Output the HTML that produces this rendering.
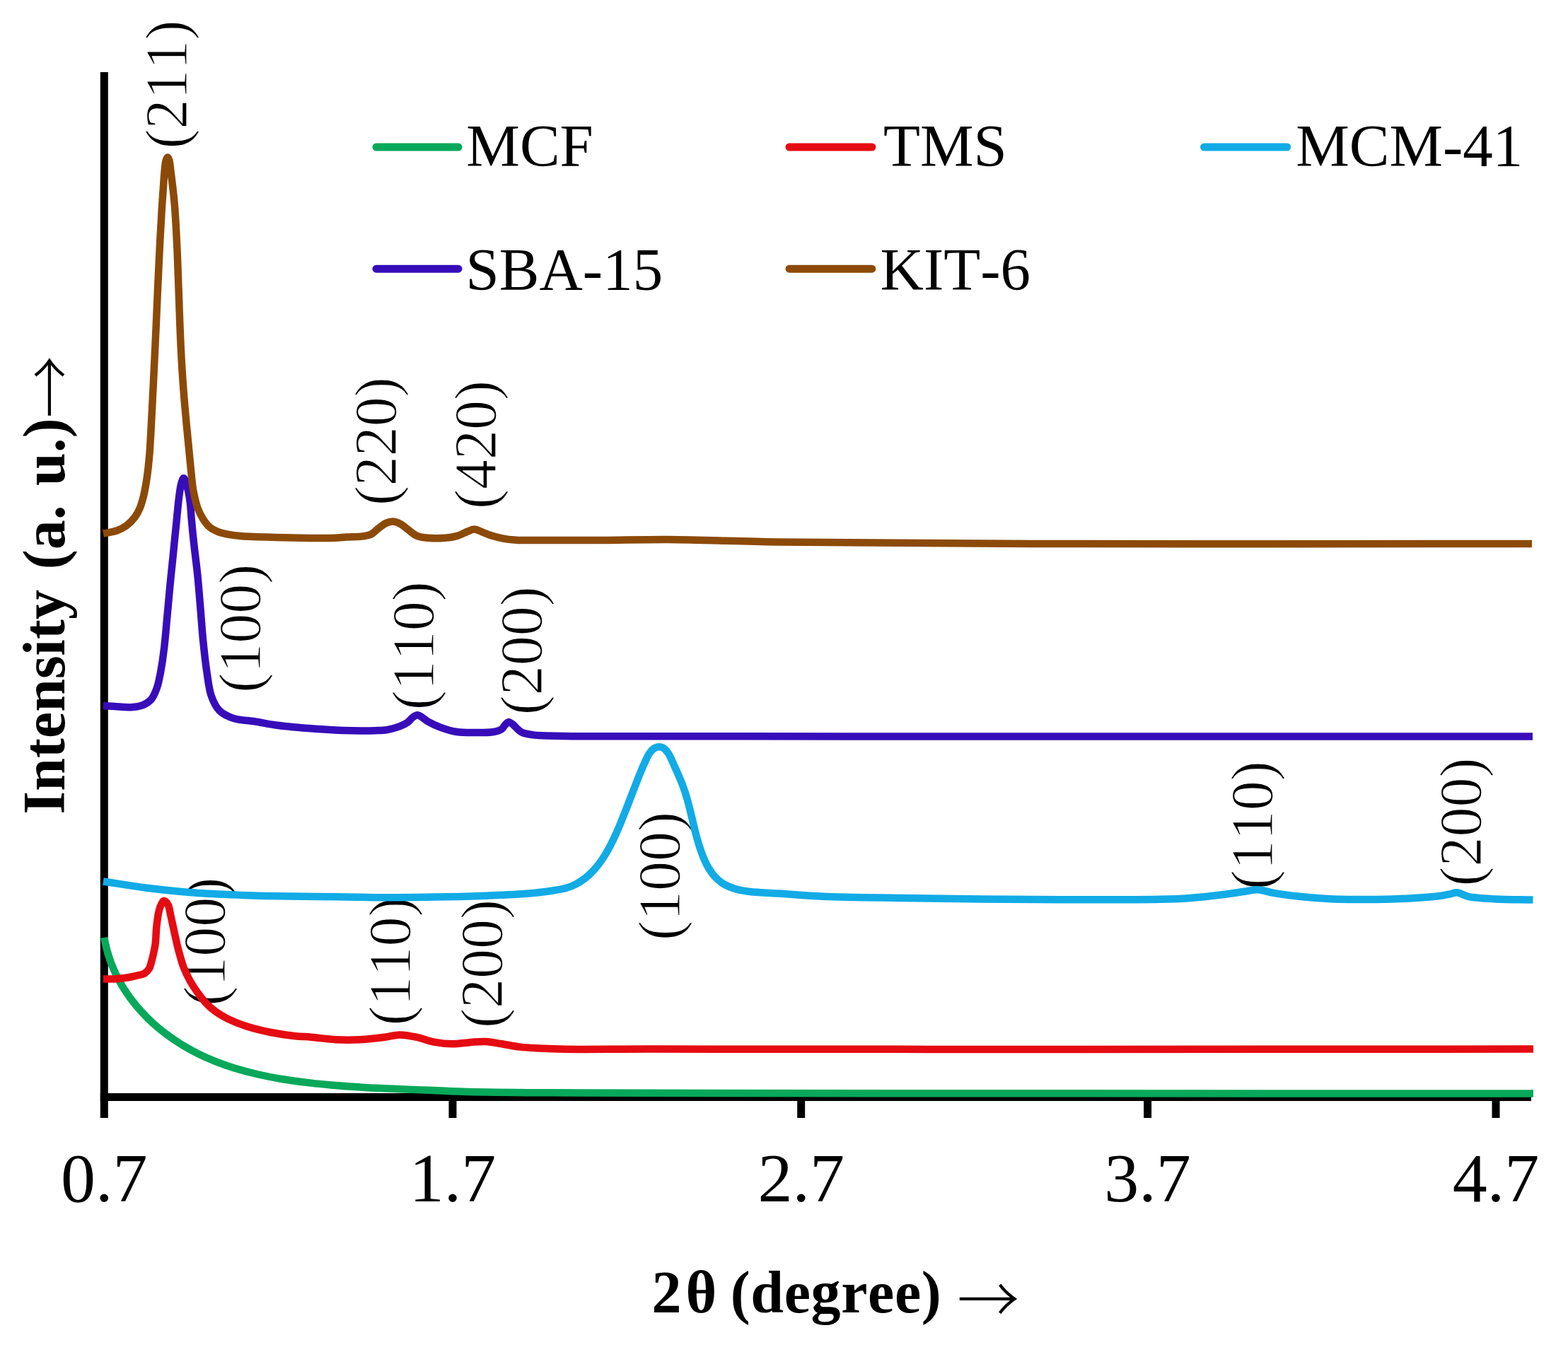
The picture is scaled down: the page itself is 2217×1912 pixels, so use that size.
<!DOCTYPE html>
<html><head><meta charset="utf-8"><title>XRD patterns</title>
<style>html,body{margin:0;padding:0;background:#fff;}svg{display:block;}text{font-kerning:none;font-feature-settings:"kern" 0;}</style></head><body>
<svg width="2217" height="1912" viewBox="0 0 2217 1912">
<rect width="2217" height="1912" fill="#fff"/>
<g font-family="'Liberation Serif',serif" font-size="84" fill="#000" stroke="#fff" stroke-width="1.2">
<text transform="translate(264.4,210.5) rotate(-90)">(211)</text>
<text transform="translate(559.6,715.1) rotate(-90)">(220)</text>
<text transform="translate(701.2,720.0) rotate(-90)">(420)</text>
<text transform="translate(367.7,979.8) rotate(-90)">(100)</text>
<text transform="translate(612.8,1004.3) rotate(-90)">(110)</text>
<text transform="translate(765.9,1011.2) rotate(-90)">(200)</text>
<text transform="translate(960.5,1329.9) rotate(-90)">(100)</text>
<text transform="translate(1798.9,1258.3) rotate(-90)">(110)</text>
<text transform="translate(2094.0,1253.4) rotate(-90)">(200)</text>
<text transform="translate(317.6,1422.8) rotate(-90)">(100)</text>
<text transform="translate(579.5,1450.4) rotate(-90)">(110)</text>
<text transform="translate(709.8,1453.9) rotate(-90)">(200)</text>
</g>
<g stroke="#000" stroke-width="11" fill="none">
<line x1="147.3" y1="102" x2="147.3" y2="1581"/>
<line x1="141.8" y1="1551.5" x2="2165" y2="1551.5"/>
<line x1="640.0" y1="1551.5" x2="640.0" y2="1581"/>
<line x1="1132.7" y1="1551.5" x2="1132.7" y2="1581"/>
<line x1="1622.6" y1="1551.5" x2="1622.6" y2="1581"/>
<line x1="2115.0" y1="1551.5" x2="2115.0" y2="1581"/>
</g>
<g fill="none" stroke-width="10.5" stroke-linejoin="round" stroke-linecap="butt">
<path stroke="#08a85a" d="M147.4,1325.9 C147.7,1327.7 147.9,1329.0 148.4,1331.2 C149.2,1335.0 150.6,1341.6 152.1,1346.8 C153.6,1352.0 155.3,1357.3 157.3,1362.4 C159.3,1367.7 161.6,1373.0 164.1,1378.2 C166.7,1383.5 169.5,1388.7 172.6,1394.1 C176.0,1399.7 179.6,1405.3 183.9,1411.1 C188.7,1417.6 194.6,1424.8 200.2,1430.9 C205.5,1436.8 210.8,1442.0 216.6,1447.3 C222.6,1452.6 229.1,1458.0 235.5,1462.8 C241.5,1467.3 247.1,1471.2 253.8,1475.4 C261.5,1480.2 270.8,1485.5 279.4,1489.9 C287.8,1494.1 296.2,1497.8 304.8,1501.2 C313.3,1504.6 321.3,1507.5 330.6,1510.3 C341.3,1513.6 353.6,1516.9 365.2,1519.5 C376.7,1522.2 388.0,1524.2 400.1,1526.2 C412.9,1528.3 427.8,1530.2 440.0,1531.6 C450.2,1532.8 457.7,1533.5 468.4,1534.5 C482.4,1535.7 500.6,1537.0 516.7,1537.9 C532.8,1538.9 548.9,1539.5 565.0,1540.2 C581.0,1540.9 597.1,1541.4 613.1,1542.0 C629.2,1542.6 641.6,1543.4 661.3,1543.9 C692.4,1544.7 740.4,1545.0 782.0,1545.3 C826.5,1545.6 862.6,1545.7 920.0,1545.8 C1015.3,1546.0 1147.5,1546.2 1300.0,1546.3 C1530.4,1546.5 1878.7,1546.4 2168.0,1546.5"/>
<path stroke="#e50b12" d="M146.0,1384.5 C151.1,1384.5 156.2,1384.6 161.3,1384.4 C166.5,1384.2 171.8,1383.8 177.0,1383.0 C182.3,1382.2 187.9,1381.0 192.7,1379.8 C196.9,1378.8 201.4,1378.3 204.5,1376.4 C207.1,1374.8 209.1,1372.8 210.7,1370.1 C212.6,1367.0 213.3,1363.0 214.6,1358.4 C216.3,1352.0 218.5,1342.9 219.6,1335.0 C220.7,1327.2 220.4,1319.0 221.3,1311.3 C222.1,1303.7 223.2,1295.0 224.6,1288.9 C225.6,1284.7 226.8,1281.0 228.2,1278.3 C229.1,1276.5 230.1,1274.5 231.2,1274.0 C232.0,1273.8 232.9,1274.1 233.7,1274.6 C235.0,1275.5 236.6,1277.4 237.8,1279.8 C239.5,1283.4 240.2,1289.6 241.5,1295.4 C243.1,1302.5 244.9,1311.2 246.7,1319.3 C248.6,1327.8 250.6,1337.1 252.8,1345.4 C254.9,1353.3 256.9,1360.9 259.6,1368.0 C262.2,1374.7 265.3,1381.0 268.6,1387.0 C271.7,1392.6 275.0,1397.6 278.7,1402.8 C282.5,1408.1 286.6,1413.6 291.0,1418.3 C295.3,1422.8 299.7,1426.8 304.8,1430.5 C310.1,1434.4 315.7,1437.7 322.2,1440.9 C329.9,1444.7 338.8,1448.3 348.2,1451.3 C358.8,1454.7 371.3,1457.7 382.9,1460.0 C394.4,1462.3 407.3,1464.1 417.6,1465.2 C425.9,1466.1 431.7,1466.0 440.0,1466.7 C450.3,1467.6 463.1,1469.6 474.7,1470.2 C486.3,1470.8 497.9,1470.8 509.5,1470.2 C521.1,1469.6 534.1,1468.0 544.2,1466.7 C552.1,1465.7 557.9,1463.4 565.1,1463.4 C572.9,1463.3 581.4,1465.2 589.4,1466.9 C597.6,1468.6 605.4,1472.1 613.7,1473.7 C622.2,1475.3 631.1,1476.3 639.8,1476.3 C648.5,1476.3 657.7,1474.5 665.9,1473.9 C673.2,1473.4 679.6,1472.6 686.7,1473.0 C694.1,1473.4 701.5,1475.1 709.3,1476.3 C717.7,1477.6 726.6,1479.6 735.3,1480.6 C744.0,1481.6 751.8,1481.9 761.4,1482.4 C773.0,1483.0 783.6,1483.5 800.0,1483.8 C828.9,1484.3 865.0,1483.6 920.0,1483.6 C1040.9,1483.5 1299.8,1484.0 1500.0,1484.0 C1714.8,1484.0 1945.3,1483.7 2168.0,1483.5"/>
<path stroke="#12abe6" d="M146.0,1246.5 C166.5,1249.6 186.6,1253.1 207.6,1255.7 C229.6,1258.4 252.6,1260.8 275.1,1262.5 C297.6,1264.2 320.2,1265.0 342.7,1265.9 C365.2,1266.7 387.8,1267.2 410.3,1267.6 C432.8,1268.0 455.3,1267.9 477.8,1268.2 C500.3,1268.5 522.9,1269.2 545.4,1269.3 C567.9,1269.4 590.5,1269.0 613.0,1268.6 C635.5,1268.2 658.0,1267.7 680.5,1266.9 C703.0,1266.0 729.0,1265.2 748.1,1263.5 C762.3,1262.3 775.2,1260.5 784.9,1259.0 C791.4,1257.9 796.0,1257.3 800.9,1255.8 C805.5,1254.5 809.6,1252.8 813.8,1250.6 C818.2,1248.4 822.6,1245.6 826.6,1242.5 C830.8,1239.3 834.8,1235.6 838.5,1231.6 C842.4,1227.5 846.0,1223.0 849.4,1218.2 C853.0,1213.2 856.3,1207.7 859.4,1202.3 C862.5,1196.9 865.0,1191.8 867.8,1185.9 C871.0,1179.3 874.2,1171.8 877.2,1164.7 C880.1,1157.8 882.7,1151.0 885.4,1144.0 C888.1,1137.2 890.7,1130.3 893.4,1123.3 C896.1,1116.3 898.9,1109.1 901.7,1102.0 C904.6,1094.9 907.5,1087.2 910.5,1080.7 C913.2,1074.9 915.8,1068.7 918.6,1064.8 C920.7,1061.9 922.7,1059.7 924.9,1058.3 C926.9,1057.1 929.0,1056.4 931.1,1056.2 C933.0,1056.0 935.0,1056.2 936.9,1057.3 C939.5,1058.6 942.2,1061.5 944.6,1064.8 C947.8,1069.4 950.6,1077.0 953.3,1082.8 C955.8,1088.2 958.1,1093.6 960.3,1098.6 C962.2,1103.1 963.8,1106.7 965.5,1111.3 C967.4,1116.5 969.3,1122.0 971.1,1128.4 C973.6,1136.6 976.1,1147.7 978.4,1156.8 C980.5,1165.1 982.2,1173.2 984.2,1180.7 C986.1,1187.5 987.9,1194.0 989.9,1199.9 C991.6,1205.2 993.3,1209.8 995.4,1214.6 C997.5,1219.4 999.7,1224.2 1002.5,1228.6 C1005.2,1232.9 1008.1,1237.1 1011.6,1240.7 C1015.0,1244.3 1018.7,1247.4 1023.1,1250.1 C1027.9,1252.9 1033.4,1255.1 1039.3,1256.9 C1045.8,1258.9 1052.4,1259.9 1060.6,1261.0 C1071.7,1262.4 1085.3,1262.5 1100.0,1263.5 C1118.8,1264.7 1139.7,1266.7 1164.0,1267.8 C1196.1,1269.2 1238.7,1269.4 1276.0,1270.0 C1313.3,1270.6 1350.7,1271.0 1388.0,1271.4 C1425.3,1271.8 1460.6,1272.2 1500.0,1272.3 C1544.1,1272.4 1607.5,1272.5 1640.0,1271.8 C1657.4,1271.4 1666.1,1271.2 1680.0,1270.2 C1695.4,1269.1 1714.0,1267.1 1728.3,1265.3 C1739.9,1263.9 1750.4,1262.1 1759.6,1260.8 C1766.8,1259.8 1772.3,1258.0 1778.9,1258.3 C1786.0,1258.6 1792.5,1261.5 1800.7,1262.9 C1811.2,1264.7 1823.9,1266.4 1836.9,1267.8 C1851.8,1269.4 1866.8,1270.7 1885.1,1271.4 C1909.3,1272.3 1943.8,1272.2 1969.6,1271.4 C1991.4,1270.7 2015.4,1269.4 2029.9,1267.8 C2038.1,1266.9 2043.7,1265.7 2049.2,1264.6 C2053.4,1263.8 2056.2,1262.0 2060.1,1262.2 C2064.9,1262.5 2069.3,1266.4 2075.8,1267.8 C2085.7,1270.0 2100.5,1270.6 2114.4,1271.4 C2130.7,1272.3 2149.8,1272.2 2167.5,1272.6"/>
<path stroke="#370dba" d="M146.0,998.0 C151.5,998.3 156.5,998.7 162.4,999.0 C169.3,999.4 177.8,1000.7 184.8,1000.2 C191.1,999.8 197.6,998.9 202.7,996.8 C207.1,995.0 210.8,992.5 213.9,989.0 C217.4,985.0 219.6,979.1 221.7,973.3 C224.1,966.6 225.4,959.2 227.0,950.9 C228.9,940.9 230.6,929.5 232.0,917.5 C233.7,903.6 234.9,887.6 236.3,872.6 C237.7,857.7 239.0,842.7 240.4,827.9 C241.8,813.5 243.3,799.7 244.8,785.0 C246.3,769.4 248.1,751.5 249.6,737.1 C250.8,725.3 251.7,714.2 252.9,704.7 C253.9,697.0 254.7,689.3 256.2,684.1 C257.2,680.8 258.5,676.3 259.7,676.2 C260.6,676.2 261.6,679.3 262.5,681.5 C263.9,685.0 265.3,690.4 266.4,695.3 C267.5,700.7 268.3,706.3 269.0,712.5 C269.8,719.5 270.0,726.8 270.8,735.1 C271.7,745.5 272.9,757.7 274.3,769.8 C275.7,783.2 277.7,797.3 279.2,812.0 C280.8,827.8 282.2,845.4 283.5,861.5 C284.8,876.8 285.7,891.4 287.2,906.3 C288.7,921.2 290.4,937.1 292.5,950.9 C294.4,962.9 295.4,974.9 298.9,984.5 C301.7,992.4 304.9,999.5 310.1,1004.7 C315.3,1009.9 322.6,1013.3 330.2,1015.9 C338.9,1018.9 350.2,1018.7 360.0,1020.3 C369.6,1021.8 377.6,1023.7 388.3,1025.2 C402.2,1027.1 420.4,1028.7 436.5,1030.0 C452.6,1031.3 469.0,1032.4 484.8,1032.9 C500.1,1033.4 518.5,1033.5 530.0,1033.2 C537.2,1033.0 541.7,1033.1 547.4,1032.1 C553.2,1031.1 559.6,1029.3 564.7,1027.4 C569.0,1025.7 573.1,1023.9 576.3,1021.6 C579.1,1019.6 580.8,1016.5 583.3,1014.7 C585.5,1013.1 587.9,1011.2 590.2,1011.2 C592.5,1011.2 594.8,1013.3 597.2,1014.7 C599.9,1016.3 602.0,1018.6 605.3,1020.5 C609.9,1023.2 616.4,1026.3 622.7,1028.6 C629.8,1031.2 638.0,1033.8 645.8,1035.0 C653.5,1036.2 660.8,1036.1 669.0,1036.1 C678.1,1036.1 690.6,1036.4 698.0,1035.0 C702.8,1034.1 706.7,1032.9 709.5,1030.9 C711.7,1029.3 712.6,1026.8 714.2,1025.1 C715.7,1023.6 717.1,1021.3 718.8,1021.1 C720.6,1020.9 722.7,1022.6 724.6,1024.0 C727.0,1025.7 729.2,1028.8 731.6,1030.9 C733.8,1032.8 735.5,1034.7 738.5,1036.1 C742.8,1038.0 748.8,1038.8 755.9,1039.6 C766.9,1040.9 784.4,1040.7 798.5,1041.0 C812.4,1041.3 819.3,1041.1 840.0,1041.2 C900.8,1041.4 1085.5,1041.3 1200.0,1041.4 C1304.6,1041.4 1380.3,1041.5 1500.0,1041.5 C1678.5,1041.5 1944.7,1041.5 2167.0,1041.5"/>
<path stroke="#8c4a08" d="M146.0,754.5 C152.3,753.2 159.3,752.5 165.0,750.5 C170.0,748.7 174.4,746.5 178.6,743.5 C182.9,740.3 187.1,736.0 190.4,731.7 C193.5,727.6 195.8,723.1 197.9,718.3 C200.1,713.1 201.6,707.1 203.0,701.5 C204.4,695.9 205.3,690.3 206.3,684.7 C207.3,679.1 208.1,673.5 208.8,667.9 C209.5,662.3 210.1,656.7 210.6,651.1 C211.2,645.5 211.6,640.9 212.0,634.3 C212.6,625.0 213.3,611.9 213.9,600.7 C214.5,589.5 215.0,578.3 215.6,567.1 C216.2,556.0 216.7,544.8 217.3,533.6 C217.8,522.5 218.3,512.3 218.9,500.1 C219.6,485.5 220.4,468.4 221.1,452.1 C221.9,435.1 222.6,416.9 223.4,399.9 C224.2,383.5 224.9,367.2 225.7,351.8 C226.4,337.3 227.3,321.4 228.0,310.0 C228.4,302.0 228.7,297.0 229.2,289.7 C229.8,281.3 230.5,271.0 231.1,262.6 C231.6,255.4 231.9,248.5 232.6,242.3 C233.1,236.9 233.5,231.0 234.6,227.4 C235.3,225.3 236.2,222.5 237.0,222.5 C237.8,222.5 238.7,225.2 239.4,227.4 C240.5,231.1 240.8,237.7 241.6,243.3 C242.4,249.4 243.2,255.7 244.0,262.7 C245.0,270.8 246.0,279.9 246.8,289.1 C247.6,298.9 248.2,308.8 248.8,319.7 C249.5,332.3 250.1,343.9 250.8,360.1 C251.8,384.5 253.1,426.5 254.1,452.2 C254.8,470.8 255.4,485.6 256.2,500.1 C256.8,512.3 257.4,522.4 258.2,533.6 C258.9,544.7 259.8,555.9 260.7,567.0 C261.7,578.2 262.7,589.4 263.7,600.5 C264.8,611.7 265.9,622.9 267.0,634.2 C268.1,645.4 269.2,657.6 270.3,668.1 C271.3,677.2 271.8,685.3 273.3,693.7 C274.9,702.1 276.8,711.1 279.4,718.3 C281.6,724.3 284.2,729.4 287.2,734.1 C289.9,738.3 292.6,742.2 296.2,745.2 C299.6,748.1 303.5,750.1 307.9,751.9 C312.9,753.9 319.2,755.1 324.7,756.1 C329.9,757.1 333.8,757.5 340.0,758.0 C349.6,758.8 363.5,759.2 376.5,759.6 C391.5,760.1 408.7,760.6 424.8,760.8 C440.9,761.0 461.0,761.2 473.0,760.8 C480.1,760.5 483.9,760.0 490.0,759.6 C497.1,759.2 506.8,759.4 513.2,758.4 C517.8,757.7 521.1,757.3 524.8,755.5 C528.9,753.5 532.6,749.0 536.3,746.3 C539.5,743.9 542.3,741.4 545.6,739.9 C548.8,738.5 552.5,737.4 556.0,737.6 C559.5,737.8 563.1,739.3 566.5,741.1 C570.4,743.2 574.1,747.0 578.0,749.8 C581.8,752.6 585.2,756.1 589.6,757.9 C594.4,759.9 599.9,760.3 605.8,760.8 C612.8,761.4 621.8,761.4 629.0,760.8 C635.2,760.3 640.9,759.5 646.4,757.9 C651.7,756.4 657.0,753.1 661.4,751.5 C664.8,750.2 667.5,748.6 670.7,748.6 C674.1,748.6 677.6,750.8 681.1,752.1 C684.9,753.5 688.4,755.3 692.7,756.7 C697.9,758.4 704.1,760.1 710.1,761.3 C716.5,762.5 722.5,763.2 730.0,763.7 C739.5,764.3 749.1,763.9 762.6,764.0 C784.7,764.1 820.2,764.2 850.0,764.0 C881.2,763.8 910.2,762.8 945.8,763.0 C990.6,763.3 1045.8,765.6 1097.8,766.4 C1152.6,767.2 1208.6,767.3 1266.8,767.7 C1329.0,768.1 1386.6,768.7 1460.0,769.0 C1557.4,769.4 1684.6,769.2 1800.0,769.2 C1919.8,769.2 2044.0,769.1 2166.0,769.0"/>
</g>
<g stroke-width="11" stroke-linecap="round">
<line stroke="#08a85a" x1="532.0" y1="208.0" x2="648.0" y2="208.0"/>
<line stroke="#e50b12" x1="1116.0" y1="208.0" x2="1232.9" y2="208.0"/>
<line stroke="#12abe6" x1="1702.5" y1="208.0" x2="1819.7" y2="208.0"/>
<line stroke="#370dba" x1="532.0" y1="380.2" x2="648.0" y2="380.2"/>
<line stroke="#8c4a08" x1="1116.0" y1="380.2" x2="1232.9" y2="380.2"/>
</g>
<g font-family="'Liberation Serif',serif" font-size="85" fill="#000">
<text x="659.3" y="234.5">MCF</text>
<text x="1249.1" y="234.5">TMS</text>
<text x="1832.2" y="234.5">MCM-41</text>
<text x="658.5" y="409.7">SBA-15</text>
<text x="1244.6" y="409.7">KIT-6</text>
</g>
<g font-family="'Liberation Serif',serif" font-size="98" fill="#000" text-anchor="middle">
<text x="147.3" y="1698.8">0.7</text>
<text x="640.0" y="1698.8">1.7</text>
<text x="1132.7" y="1698.8">2.7</text>
<text x="1622.6" y="1698.8">3.7</text>
<text x="2115.0" y="1698.8">4.7</text>
</g>
<g font-family="'Liberation Serif',serif" font-size="84" font-weight="bold" fill="#000">
<text x="921.5" y="1855.7">2<tspan x="969.5" font-weight="bold">θ</tspan><tspan x="1032.8" letter-spacing="0.6">(degree)</tspan><tspan x="1353.3" dy="14.3" font-family="'Noto Serif CJK SC',serif" font-size="88" font-weight="bold">→</tspan></text>
<text transform="translate(90.5,1151.5) rotate(-90)">Intensity <tspan dx="7.8">(a. </tspan><tspan dx="6.3">u.)</tspan><tspan dy="12.6" font-family="'Noto Serif CJK SC',serif" font-size="88" font-weight="bold">→</tspan></text>
</g>
</svg>
</body></html>
